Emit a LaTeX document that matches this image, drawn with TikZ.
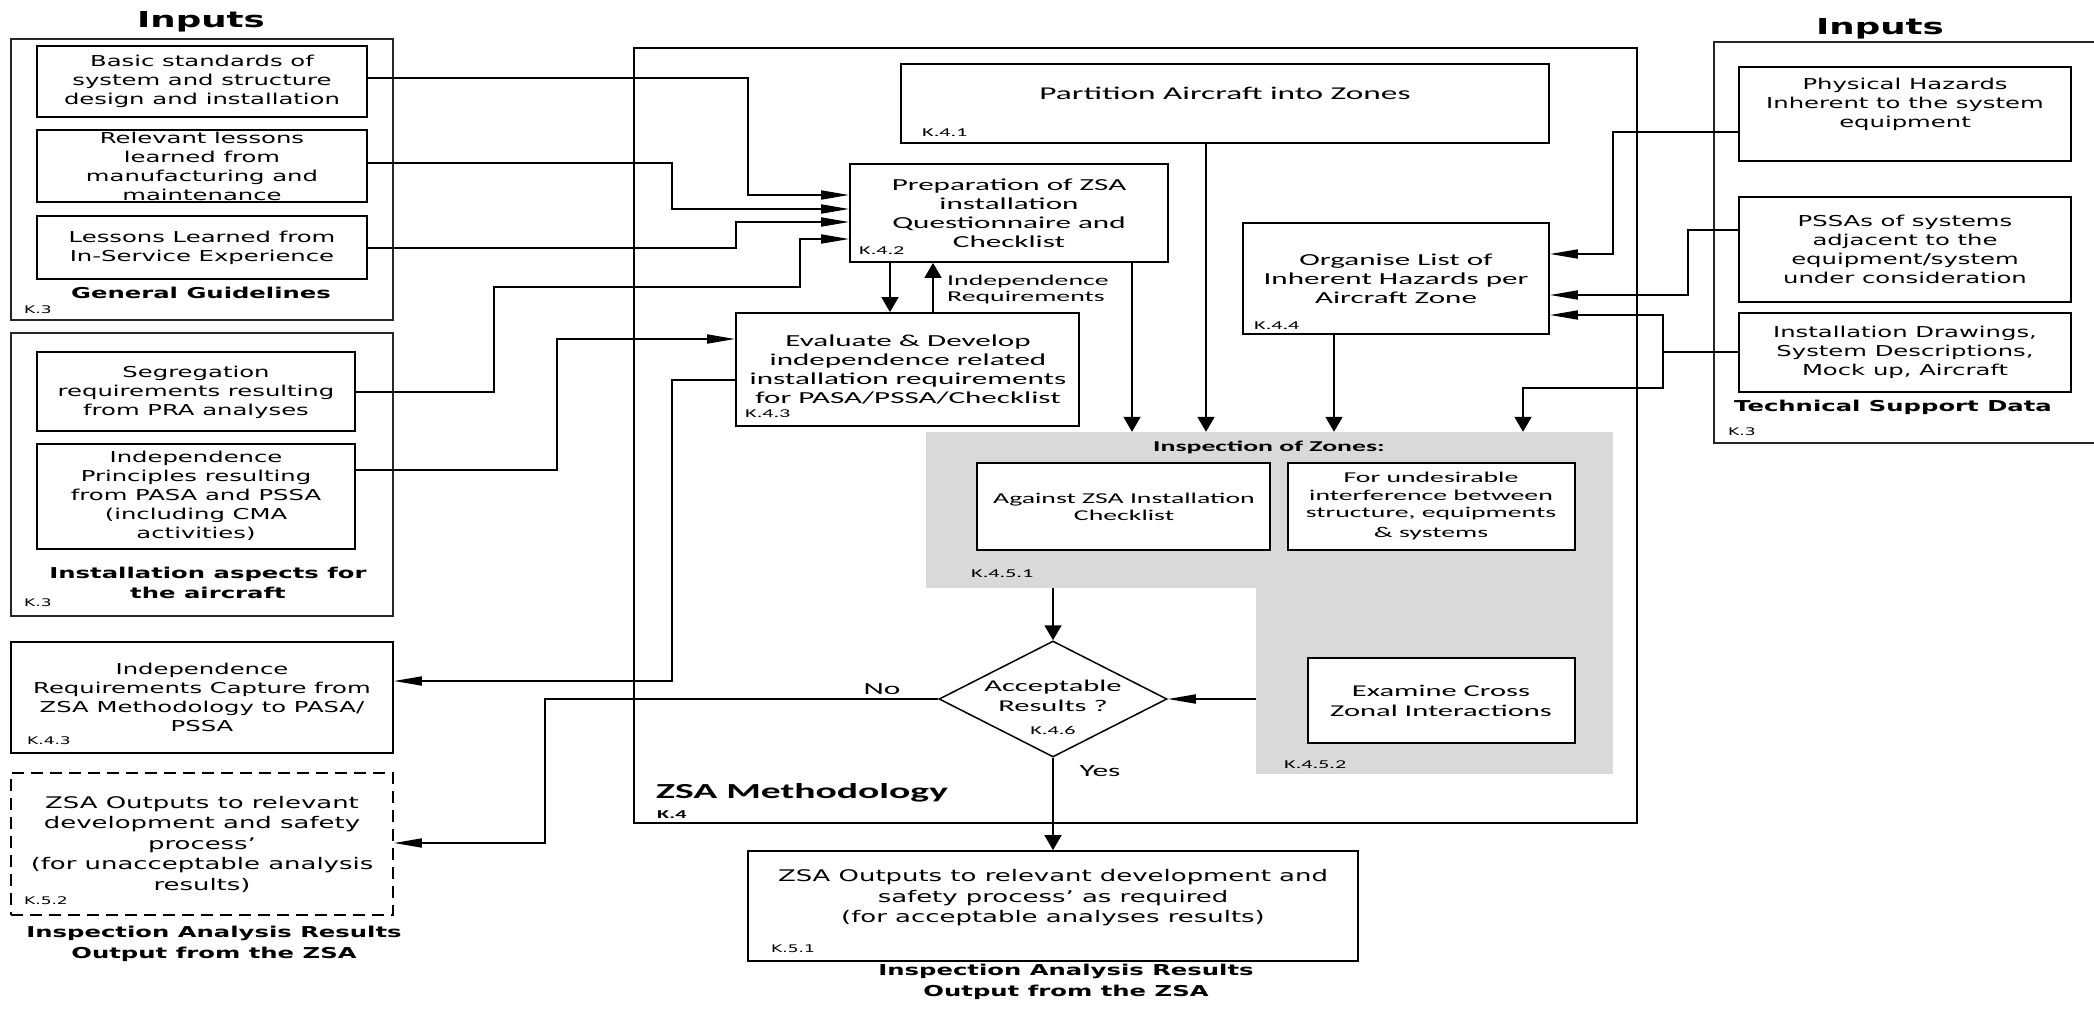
\documentclass[tikz,border=0pt]{standalone}
\usepackage{fontspec}
\usetikzlibrary{arrows.meta,fit,shapes.geometric}
\newfontfamily\vf[FakeStretch=1.62]{DejaVu Sans}
\newfontfamily\cf[FakeStretch=1.85]{Carlito}
\definecolor{zgray}{RGB}{217,217,217}

\tikzset{
  grp/.style={draw=black!85, line width=1.5pt, inner sep=0pt},
  bx/.style={draw=black, line width=1.8pt, fill=white, inner sep=0pt},
  dbx/.style={bx, dash pattern=on 12pt off 7pt},
  txt/.style={inner sep=0pt, align=center},
  vt/.style={txt, font=\vf\fontsize{15}{19}\selectfont},
  vo/.style={txt, font=\vf\fontsize{16}{20.5}\selectfont},
  vb/.style={txt, font=\vf\bfseries\fontsize{15}{20.5}\selectfont},
  vinp/.style={txt, font=\vf\bfseries\fontsize{22}{24}\selectfont},
  vk/.style={txt, anchor=west, font=\vf\fontsize{10.5}{12}\selectfont},
  ct/.style={txt, font=\cf\fontsize{16.8}{19}\selectfont},
  cpart/.style={txt, font=\cf\fontsize{18}{20}\selectfont},
  cind/.style={txt, align=left, font=\cf\fontsize{15}{16}\selectfont},
  cins/.style={txt, font=\cf\fontsize{15}{17.5}\selectfont},
  cdia/.style={txt, font=\cf\fontsize{16.5}{20}\selectfont},
  cyn/.style={txt, font=\cf\fontsize{17}{19}\selectfont},
  czsa/.style={txt, anchor=west, font=\cf\bfseries\fontsize{21.4}{23}\selectfont},
  czone/.style={txt, font=\cf\bfseries\fontsize{15}{17}\selectfont},
  ck/.style={txt, anchor=west, font=\cf\fontsize{12}{13}\selectfont},
  ckb/.style={txt, anchor=west, font=\cf\bfseries\fontsize{12}{13}\selectfont},
  wire/.style={line width=1.8pt},
  harrow/.style={wire, -{Triangle[length=28pt,width=9pt]}},
  varrow/.style={wire, -{Triangle[length=15pt,width=17pt]}},
}

\begin{document}
\begin{tikzpicture}[x=1pt,y=-1pt]
\useasboundingbox (0,0) rectangle (2094,1009);
\fill[white] (0,0) rectangle (2094,1009);

% ---------- left inputs ----------
\node[vinp] (inl) at (201,22) {Inputs};
\node[grp, fit={(11,39)(393,320)}] (gg) {};
\node[bx, fit={(37,46)(367,117)}] (basic) {};
\node[vt] (basict) at (202,81) {Basic standards of\\system and structure\\design and installation};
\node[bx, fit={(37,130)(367,202)}] (relev) {};
\node[vt] (relevt) at (202,166) {Relevant lessons\\learned from\\manufacturing and\\maintenance};
\node[bx, fit={(37,216)(367,279)}] (lessons) {};
\node[vt] (lessonst) at (202,247.5) {Lessons Learned from\\In-Service Experience};
\node[vb] (ggt) at (201,293) {General Guidelines};
\node[vk] (ggk) at (24,310) {K.3};

\node[grp, fit={(11,333)(393,616)}] (ia) {};
\node[bx, fit={(37,352)(355,431)}] (segreg) {};
\node[vt] (segregt) at (196,392) {Segregation\\requirements resulting\\from PRA analyses};
\node[bx, fit={(37,444)(355,549)}] (indep) {};
\node[vt] (indept) at (196,496) {Independence\\Principles resulting\\from PASA and PSSA\\(including CMA\\activities)};
\node[vb] (iat) at (208,583) {Installation aspects for\\the aircraft};
\node[vk] (iak) at (24,603) {K.3};

% ---------- left outputs ----------
\node[bx, fit={(11,642)(393,753)}] (irc) {};
\node[vt] (irct) at (202,697.5) {Independence\\Requirements Capture from\\ZSA Methodology to PASA/\\PSSA};
\node[vk] (irck) at (27,741) {K.4.3};
\node[dbx, fit={(11,773)(393,915)}] (dashed) {};
\node[vo] (dashedt) at (202,844) {ZSA Outputs to relevant\\development and safety\\process’\\(for unacceptable analysis\\results)};
\node[vk] (dashedk) at (24,901) {K.5.2};
\node[vb] (outl) at (214,944) {Inspection Analysis Results\\Output from the ZSA};

% ---------- ZSA methodology frame ----------
\node[bx, fill=none, fit={(634,48)(1637,823)}] (zsa) {};
\node[czsa] (zsat) at (656,793) {ZSA Methodology};
\node[ckb] (zsak) at (657,815) {K.4};

\node[bx, fit={(901,64)(1549,143)}] (part) {};
\node[cpart] (partt) at (1225,93) {Partition Aircraft into Zones};
\node[ck] (partk) at (922,133) {K.4.1};

\node[bx, fit={(850,164)(1168,262)}] (prep) {};
\node[ct] (prept) at (1009,213.5) {Preparation of ZSA\\installation\\Questionnaire and\\Checklist};
\node[ck] (prepk) at (859,251) {K.4.2};

\node[bx, fit={(736,313)(1079,426)}] (eval) {};
\node[ct] (evalt) at (908,369.5) {Evaluate \& Develop\\independence related\\installation requirements\\for PASA/PSSA/Checklist};
\node[ck] (evalk) at (745,414) {K.4.3};

\node[bx, fit={(1243,223)(1549,334)}] (organ) {};
\node[ct] (organt) at (1396,279) {Organise List of\\Inherent Hazards per\\Aircraft Zone};
\node[ck] (organk) at (1254,326) {K.4.4};

% inspection of zones (grey L-shaped field)
\node[fill=zgray, inner sep=0pt, fit={(926,432)(1613,588)}] (zones) {};
\node[fill=zgray, inner sep=0pt, fit={(1256,587)(1613,774)}] (cross) {};
\node[czone] (zonest) at (1269,447) {Inspection of Zones:};
\node[bx, line width=1.5pt, fit={(977,463)(1270,550)}] (against) {};
\node[cins] (againstt) at (1124,507) {Against ZSA Installation\\Checklist};
\node[bx, line width=1.5pt, fit={(1288,463)(1575,550)}] (interf) {};
\node[cins] (interft) at (1431,506) {For undesirable\\interference between\\structure, equipments\\[2pt]\& systems};
\node[ck] (zonesk) at (971,574) {K.4.5.1};
\node[bx, line width=1.5pt, fit={(1308,658)(1575,743)}] (exam) {};
\node[cdia] (examt) at (1441,700.5) {Examine Cross\\Zonal Interactions};
\node[ck] (crossk) at (1284,765) {K.4.5.2};

% decision
\node[draw, line width=1.5pt, fill=white, diamond, inner sep=0pt,
      minimum width=228pt, minimum height=116pt] (acc) at (1053,699) {};
\node[cdia] (acct) at (1053,696) {Acceptable\\Results ?};
\node[ck, anchor=center] (acck) at (1053,730) {K.4.6};

% ---------- bottom output ----------
\node[bx, fit={(748,851)(1358,961)}] (outp) {};
\node[vo] (outpt) at (1053,898) {ZSA Outputs to relevant development and\\safety process’ as required\\(for acceptable analyses results)};
\node[vk] (outpk) at (771,949) {K.5.1};
\node[vb] (outb) at (1066,982) {Inspection Analysis Results\\Output from the ZSA};

% ---------- right inputs ----------
\node[vinp] (inr) at (1880,29) {Inputs};
\node[grp, fit={(1714,42)(2110,443)}] (tsd) {};
\node[bx, fit={(1739,67)(2071,161)}] (phys) {};
\node[vt] (physt) at (1905,104) {Physical Hazards\\Inherent to the system\\equipment};
\node[bx, fit={(1739,197)(2071,302)}] (pssa) {};
\node[vt] (pssat) at (1905,249.5) {PSSAs of systems\\adjacent to the\\equipment/system\\under consideration};
\node[bx, fit={(1739,313)(2071,392)}] (instd) {};
\node[vt] (instdt) at (1905,352) {Installation Drawings,\\System Descriptions,\\Mock up, Aircraft};
\node[vb] (tsdt) at (1893,407) {Technical Support Data};
\node[vk] (tsdk) at (1728,432) {K.3};

% ---------- connectors ----------
\draw[harrow] (basic.east |- 0,78) -- (748,78) -- (748,195) -- (prep.west |- 0,195);
\draw[harrow] (relev.east |- 0,163) -- (672,163) -- (672,209) -- (prep.west |- 0,209);
\draw[harrow] (lessons.east |- 0,248) -- (736,248) -- (736,222) -- (prep.west |- 0,222);
\draw[harrow] (segreg.east |- 0,392) -- (494,392) -- (494,287) -- (800,287) -- (800,239) -- (prep.west |- 0,239);
\draw[harrow] (indep.east |- 0,470) -- (557,470) -- (557,339) -- (eval.west |- 0,339);
\draw[harrow] (eval.west |- 0,380) -- (672,380) -- (672,681) -- (irc.east |- 0,681);

\draw[varrow] (prep.south -| 890,0) -- (eval.north -| 890,0);
\draw[varrow] (eval.north -| 933,0) -- (prep.south -| 933,0);
\node[cind, anchor=west] (indreq) at (947,289) {Independence\\Requirements};

\draw[varrow] (prep.south -| 1132,0) -- (zones.north -| 1132,0);
\draw[varrow] (part.south -| 1206,0) -- (zones.north -| 1206,0);
\draw[varrow] (organ.south -| 1334,0) -- (zones.north -| 1334,0);

\draw[harrow] (phys.west |- 0,132) -- (1613,132) -- (1613,254) -- (organ.east |- 0,254);
\draw[harrow] (pssa.west |- 0,230) -- (1688,230) -- (1688,295) -- (organ.east |- 0,295);
\coordinate (split) at (1663,352);
\draw[harrow] (instd.west |- split) -- (split) -- (1663,315) -- (organ.east |- 0,315);
\draw[varrow] (split) -- (1663,388) -- (1523,388) -- (zones.north -| 1523,0);

\draw[varrow] (zones.south -| acc.north) -- (acc.north);
\draw[harrow] (cross.west |- acc.east) -- (acc.east);
\draw[harrow] (acc.west) -- (545,699) -- (545,843) -- (dashed.east |- 0,843);
\node[cyn] (no) at (882,689) {No};
\draw[varrow] (acc.south) -- (outp.north -| acc.south);
\node[cyn] (yes) at (1100,771) {Yes};
\end{tikzpicture}
\end{document}
